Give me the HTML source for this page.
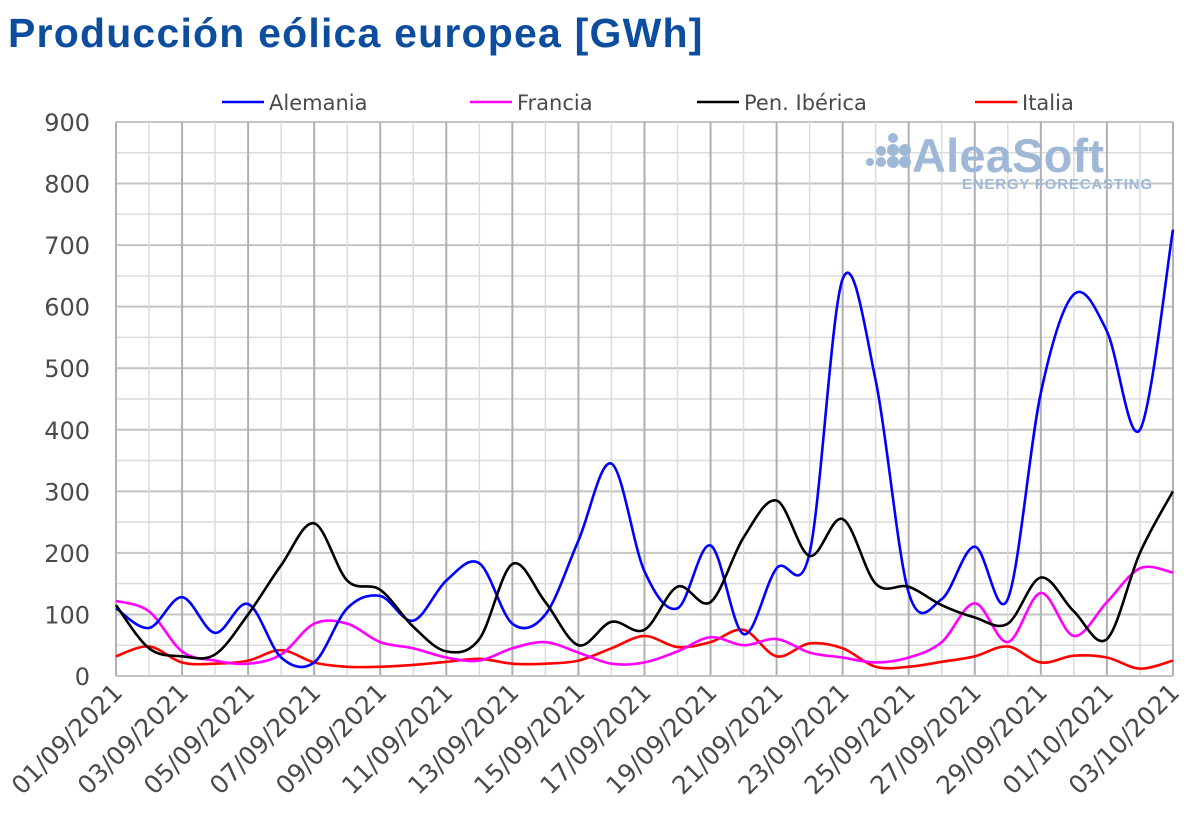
<!DOCTYPE html>
<html><head><meta charset="utf-8"><style>
body{margin:0;background:#fff;width:1200px;height:835px;overflow:hidden;font-family:"Liberation Sans",sans-serif}
h1{position:absolute;left:8px;top:10px;margin:0;font-size:41px;font-weight:bold;color:#0d4d9e;letter-spacing:1.2px}
</style></head><body>
<h1>Producción eólica europea [GWh]</h1>
<svg id="s" width="1200" height="835" style="position:absolute;left:0;top:0"></svg>
<script>
const X0=116,DX=33.03,Y0=676,K=0.6156;
const x=i=>X0+DX*i, y=v=>Y0-K*v;
const F='font-family="DejaVu Sans" fill="#4a4a4a"';
let h='';
for(let v=50;v<=900;v+=50){h+=`<line x1="${X0}" x2="1173" y1="${y(v)}" y2="${y(v)}" stroke="${v%100?'#dcdcdc':'#c4c4c4'}" stroke-width="${v%100?1.5:2}"/>`;}
for(let i=0;i<=32;i++){h+=`<line x1="${x(i)}" x2="${x(i)}" y1="${y(900)}" y2="${Y0}" stroke="${i%2?'#dcdcdc':'#b0b0b0'}" stroke-width="${i%2?1.5:2}"/>`;}
h+=`<line x1="${X0}" x2="1173" y1="${Y0}" y2="${Y0}" stroke="#c4c4c4" stroke-width="2"/>`;
for(let v=0;v<=900;v+=100)h+=`<text x="90" y="${y(v)+9}" text-anchor="end" font-size="24" ${F}>${v}</text>`;
const dates=["01/09","03/09","05/09","07/09","09/09","11/09","13/09","15/09","17/09","19/09","21/09","23/09","25/09","27/09","29/09","01/10","03/10"];
dates.forEach((d,k)=>{const xx=x(2*k)+8,yy=694;h+=`<text transform="translate(${xx},${yy}) rotate(-45)" text-anchor="end" font-size="25" ${F}>${d}/2021</text>`;});
h+=`<g fill="#9fb8d8">`;
[[870,162,4],[881,162,5],[881,151,5],[893,162,6],[893,150,6],[893,138,5],[905,162,6],[905,150,6]].forEach(c=>h+=`<circle cx="${c[0]}" cy="${c[1]}" r="${c[2]}"/>`);
h+=`<text x="912" y="172" font-size="47" font-weight="bold" textLength="192">AleaSoft</text><text x="962" y="189" font-size="15" font-weight="bold" textLength="190">ENERGY FORECASTING</text></g>`;
const S={
"#0000ff":[110,78,128,70,117,30,22,110,130,90,155,183,85,100,220,345,170,110,212,68,175,200,645,480,135,125,210,125,460,620,560,400,725],
"#ff00ff":[122,105,40,25,20,35,85,85,55,45,30,25,45,55,38,20,22,40,63,50,60,38,30,22,30,55,118,55,135,65,120,175,168],
"#000000":[115,45,32,35,100,180,248,155,140,80,40,60,182,120,50,88,75,145,120,225,285,195,255,150,145,115,95,85,160,105,60,200,300],
"#ff0000":[32,48,22,20,25,42,22,15,15,18,23,28,20,20,25,45,65,47,55,75,32,53,45,15,15,23,32,48,22,33,30,12,25]};
const order=["#ff0000","#ff00ff","#0000ff","#000000"];
for(const c of order){const d=S[c];const P=d.map((v,i)=>[x(i),y(v)]);let p=`M${P[0][0]},${P[0][1]}`;
for(let i=0;i<P.length-1;i++){const a=P[Math.max(0,i-1)],b=P[i],e=P[i+1],f=P[Math.min(P.length-1,i+2)];
p+=`C${b[0]+(e[0]-a[0])/6},${b[1]+(e[1]-a[1])/6} ${e[0]-(f[0]-b[0])/6},${e[1]-(f[1]-b[1])/6} ${e[0]},${e[1]}`;}
h+=`<path d="${p}" fill="none" stroke="${c}" stroke-width="2.6"/>`;}
[["#0000ff","Alemania",222],["#ff00ff","Francia",470],["#000000","Pen. Ibérica",697],["#ff0000","Italia",975]].forEach(l=>{
h+=`<line x1="${l[2]}" x2="${l[2]+42}" y1="102" y2="102" stroke="${l[0]}" stroke-width="2.6"/><text x="${l[2]+47}" y="110" font-size="21" ${F}>${l[1]}</text>`;});
document.getElementById('s').innerHTML=h;
</script>
</body></html>
